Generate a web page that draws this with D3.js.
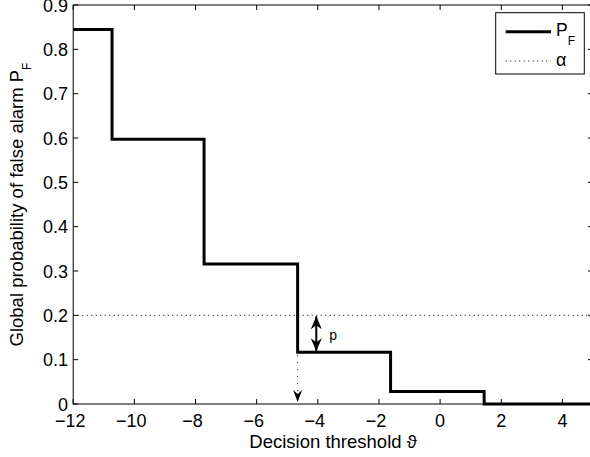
<!DOCTYPE html>
<html>
<head>
<meta charset="utf-8">
<script src="https://cdn.jsdelivr.net/npm/d3@7"></script>
<style>
body { margin: 0; background: #fff; }
svg { display: block; font-family: 'Liberation Sans', Arial, sans-serif; }
</style>
</head>
<body>
<div id="chart"></div>
<script>
// step edges of the decision threshold and the false alarm level on each step
let thresholds = [-12, -10.73, -7.72, -4.66, -1.62, 1.44, 5]
let pf = [0.845, 0.597, 0.316, 0.117, 0.028, 0]
let alpha = 0.2
let arrowAt = -4.05
let xTicks = [-12, -10, -8, -6, -4, -2, 0, 2, 4]
let yTicks = [0, 0.1, 0.2, 0.3, 0.4, 0.5, 0.6, 0.7, 0.8, 0.9]
let legendLabels = ['P', 'α']

let width = 590, height = 457

let svg = d3.select('#chart')
.append('svg')
.attr('width', width)
.attr('height', height)

let x = d3.scaleLinear().domain([-12, 5]).range([73.2, 593])
let y = d3.scaleLinear().domain([0, 0.9]).range([404, 5])

let defs = svg.append('defs')
defs.append('marker')
.attr('id', 'head')
.attr('viewBox', '-1 -7 15 14')
.attr('markerUnits', 'userSpaceOnUse')
.attr('markerWidth', 15).attr('markerHeight', 14)
.attr('refX', 13).attr('refY', 0)
.attr('orient', 'auto-start-reverse')
.append('path')
.attr('d', 'M0,-5.5 L13,0 L0,5.5 L4,0 Z')
.attr('fill', '#000')

defs.append('marker')
.attr('id', 'head2')
.attr('viewBox', '-1 -6 14 12')
.attr('markerUnits', 'userSpaceOnUse')
.attr('markerWidth', 14).attr('markerHeight', 12)
.attr('refX', 12).attr('refY', 0)
.attr('orient', 'auto')
.append('path')
.attr('d', 'M0,-4.5 L12,0 L0,4.5 L4,0 Z')
.attr('fill', '#000')

// box
svg.append('rect')
.attr('x', x(-12)).attr('y', y(0.9))
.attr('width', x(5) - x(-12)).attr('height', y(0) - y(0.9))
.attr('fill', 'none').attr('stroke', '#000').attr('stroke-width', 1)

// ticks (inward, all four sides)
let tl = 5
let ax = svg.append('g').attr('stroke', '#000').attr('stroke-width', 1)
for (let t of xTicks) {
	ax.append('line').attr('x1', x(t)).attr('x2', x(t)).attr('y1', y(0)).attr('y2', y(0) - tl)
	ax.append('line').attr('x1', x(t)).attr('x2', x(t)).attr('y1', y(0.9)).attr('y2', y(0.9) + tl)
}
for (let t of yTicks) {
	ax.append('line').attr('x1', x(-12)).attr('x2', x(-12) + tl).attr('y1', y(t)).attr('y2', y(t))
	ax.append('line').attr('x1', x(5)).attr('x2', x(5) - tl).attr('y1', y(t)).attr('y2', y(t))
}

svg.append('g')
.selectAll('text')
.data(xTicks)
.join('text')
.attr('x', d => x(d) - (d < 0 ? 3 : 0))
.attr('y', 427)
.attr('text-anchor', 'middle')
.style('font-size', '18px')
.text(d => d < 0 ? '\u2212' + Math.abs(d) : d)

svg.append('g')
.selectAll('text')
.data(yTicks)
.join('text')
.attr('x', 68)
.attr('y', d => y(d) + 6.5)
.attr('text-anchor', 'end')
.style('font-size', '18px')
.text(d => d == 0 ? '0' : d3.format('.1f')(d))

// axis labels
svg.append('text')
.attr('x', (x(-12) + x(5)) / 2)
.attr('y', 448)
.attr('text-anchor', 'middle')
.style('font-size', '18.5px')
.text('Decision threshold \u03d1')

let yl = svg.append('text')
.attr('transform', `translate(23,${(y(0) + y(0.9)) / 2}) rotate(-90)`)
.attr('text-anchor', 'middle')
.style('font-size', '18.5px')
yl.append('tspan').text('Global probability of false alarm P')
yl.append('tspan').attr('dy', 8).style('font-size', '12px').text('F')

// alpha level
svg.append('line')
.attr('x1', x(-12)).attr('x2', x(5))
.attr('y1', y(alpha)).attr('y2', y(alpha))
.attr('stroke', '#000').attr('stroke-width', 1)
.attr('stroke-dasharray', '1,3.5')

// staircase
let stairs = thresholds.map((t, i) => [t, pf[Math.min(i, pf.length - 1)]])
svg.append('path')
.datum(stairs)
.attr('d', d3.line().x(d => x(d[0])).y(d => y(d[1])).curve(d3.curveStepAfter))
.attr('fill', 'none')
.attr('stroke', '#000')
.attr('stroke-width', 3)
.attr('stroke-linejoin', 'miter')

// double arrow p
svg.append('line')
.attr('x1', x(arrowAt)).attr('x2', x(arrowAt))
.attr('y1', y(alpha) + 1).attr('y2', y(pf[3]) - 1)
.attr('stroke', '#000').attr('stroke-width', 2)
.attr('marker-start', 'url(#head)')
.attr('marker-end', 'url(#head)')

svg.append('text')
.attr('x', x(arrowAt) + 13)
.attr('y', 340)
.style('font-size', '14px')
.text('p')

// dotted arrow down to the threshold
svg.append('line')
.attr('x1', x(thresholds[3])).attr('x2', x(thresholds[3]))
.attr('y1', y(pf[3]) + 3).attr('y2', y(0) - 2)
.attr('stroke', '#000').attr('stroke-width', 1)
.attr('stroke-dasharray', '1,6')
.attr('marker-end', 'url(#head2)')

// legend
let lg = svg.append('g')
lg.append('rect')
.attr('x', 495.7).attr('y', 12.7)
.attr('width', 88.6).attr('height', 61.3)
.attr('fill', '#fff').attr('stroke', '#000').attr('stroke-width', 1)
lg.append('line')
.attr('x1', 505.7).attr('x2', 551).attr('y1', 31.7).attr('y2', 31.7)
.attr('stroke', '#000').attr('stroke-width', 3)
lg.append('line')
.attr('x1', 505.7).attr('x2', 551).attr('y1', 61).attr('y2', 61)
.attr('stroke', '#000').attr('stroke-width', 1)
.attr('stroke-dasharray', '1,3.5')
let t1 = lg.append('text').attr('x', 556).attr('y', 35.5).style('font-size', '17.5px')
t1.append('tspan').text(legendLabels[0])
t1.append('tspan').attr('dy', 9).style('font-size', '12px').text('F')
lg.append('text').attr('x', 556).attr('y', 66).style('font-size', '18px').text(legendLabels[1])
</script>
</body>
</html>
